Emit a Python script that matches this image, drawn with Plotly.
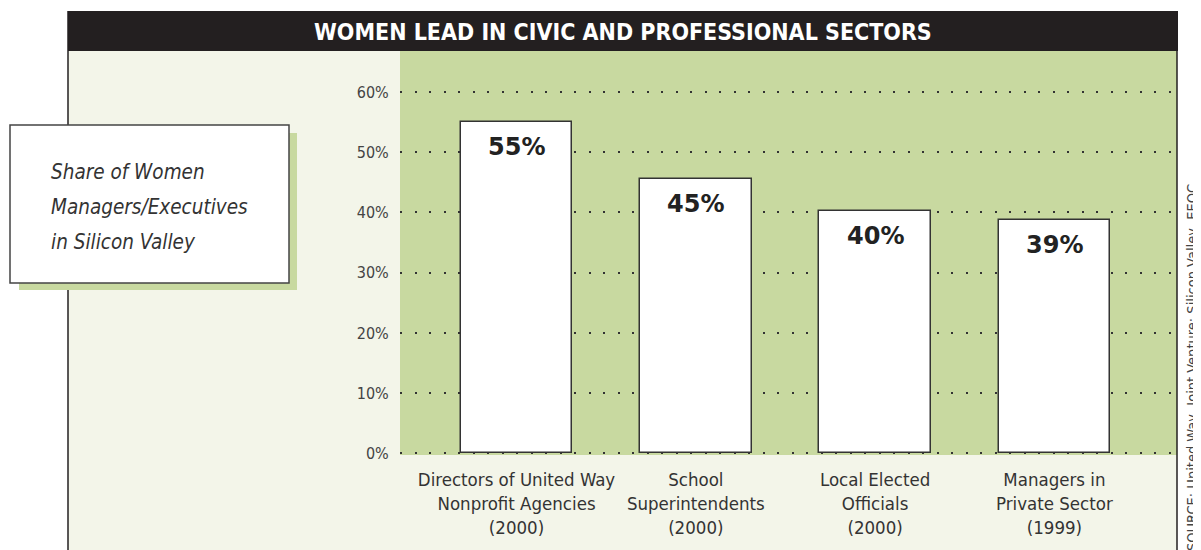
import plotly.graph_objects as go

# ---- data ----
categories = [
    "Directors of United Way<br>Nonprofit Agencies<br>(2000)",
    "School<br>Superintendents<br>(2000)",
    "Local Elected<br>Officials<br>(2000)",
    "Managers in<br>Private Sector<br>(1999)",
]
values = [55, 45.5, 40.2, 38.7]
value_labels = ["55%", "45%", "40%", "39%"]
y_ticks = [0, 10, 20, 30, 40, 50, 60]
y_tick_labels = ["0%", "10%", "20%", "30%", "40%", "50%", "60%"]
title_text = "WOMEN LEAD IN CIVIC AND PROFESSIONAL SECTORS"
box_lines = ["Share of Women", "Managers/Executives", "in Silicon Valley"]
source_text = "SOURCE: United Way, Joint Venture: Silicon Valley, EEOC"

# ---- layout geometry (page pixels; the page body has an 8px margin) ----
OFF = 8
W, H = 1201 - OFF, 550 - OFF
PL, PR, PT, PB = 400, 1177, 51, 455          # plot area in page pixels
L, T = PL - OFF, PT - OFF
R, B = W - (PR - OFF), H - (PB - OFF)
PW, PH = W - L - R, H - T - B

def px(x):
    return (x - OFF - L) / PW

def py(y):
    return (H - B - (y - OFF)) / PH

GREEN = "rgb(200,217,160)"
CREAM = "rgb(243,245,233)"
DARK = "#231f20"
COND = "DejaVu Sans Condensed, Liberation Sans Narrow, sans-serif"

xs = list(range(len(values)))

fig = go.Figure()
fig.add_trace(go.Bar(
    x=xs, y=values, width=0.622,
    marker=dict(color="white", line=dict(color="#333333", width=1.5)),
    hoverinfo="skip", showlegend=False,
))

shapes = []
def rect(x0, y0, x1, y1, fill, line_color=None, lw=0):
    shapes.append(dict(type="rect", xref="paper", yref="paper",
                       x0=px(x0), x1=px(x1), y0=py(y1), y1=py(y0),
                       fillcolor=fill, layer="below",
                       line=dict(color=line_color or fill, width=lw)))

def vline(x, y0, y1, color, lw):
    shapes.append(dict(type="line", xref="paper", yref="paper",
                       x0=px(x), x1=px(x), y0=py(y1), y1=py(y0),
                       layer="below", line=dict(color=color, width=lw)))

rect(68, 51, 1177, 560, CREAM)
rect(PL, PT, PR, PB, GREEN)
rect(68, 11, 1178, 51, DARK)
vline(68, 11, 560, DARK, 1.5)
vline(1177, 11, 560, DARK, 1.5)
rect(19, 133, 297, 290, GREEN)
rect(10, 125, 289, 283, "white", "#444444", 1.5)

annotations = []
annotations.append(dict(
    text=title_text, x=px(622.5), y=py(32), xref="paper", yref="paper",
    showarrow=False, xanchor="center", yanchor="middle",
    font=dict(family=COND, size=23, color="white", weight="bold"),
))
for line, yy in zip(box_lines, [172, 207, 242]):
    annotations.append(dict(
        text=line, x=px(49), y=py(yy), xref="paper", yref="paper",
        showarrow=False, xanchor="left", yanchor="middle",
        font=dict(family=COND, size=20.5, color="#333333", style="italic"),
    ))
for x, v, lab in zip(xs, values, value_labels):
    annotations.append(dict(
        text=lab, x=x, y=v, xref="x", yref="y", showarrow=False,
        xanchor="center", yanchor="middle", yshift=-25,
        font=dict(family="DejaVu Sans, sans-serif", size=24, color="#222222", weight="bold"),
    ))
annotations.append(dict(
    text=source_text, x=px(1192), y=py(368), xref="paper", yref="paper",
    showarrow=False, textangle=-90, xanchor="center", yanchor="middle",
    font=dict(family=COND, size=14.5, color="#444444"),
))

fig.update_layout(
    width=W, height=H,
    margin=dict(l=L, r=R, t=T, b=B, pad=0),
    paper_bgcolor="white", plot_bgcolor="rgba(0,0,0,0)",
    shapes=shapes, annotations=annotations,
    bargap=0,
    xaxis=dict(
        range=[-0.6498, 3.6838], tickvals=xs, ticktext=categories,
        showgrid=False, zeroline=False, showline=False,
        ticks="outside", ticklen=8, tickcolor="rgba(0,0,0,0)",
        tickfont=dict(family=COND, size=18.5, color="#333333"),
        fixedrange=True,
    ),
    yaxis=dict(
        range=[-0.25, 66.8], tickvals=y_ticks, ticktext=y_tick_labels,
        showgrid=True, gridcolor="#333333", gridwidth=2, griddash="2px,12.5px",
        zeroline=False, showline=False,
        ticks="outside", ticklen=7, tickcolor="rgba(0,0,0,0)",
        tickfont=dict(family=COND, size=16, color="#444444"),
        fixedrange=True,
    ),
)

fig.write_html("out.html")
